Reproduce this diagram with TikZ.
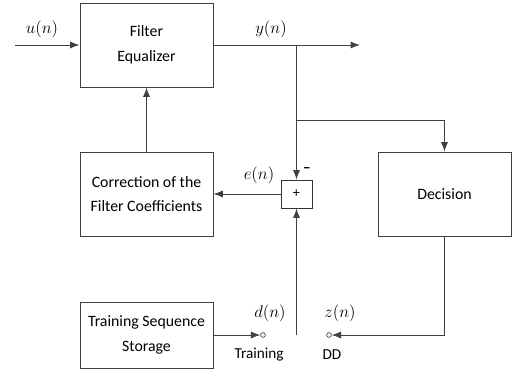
\documentclass[tikz,border=0pt]{standalone}
\usepackage{fontspec}
\setmainfont{Carlito}
\usetikzlibrary{arrows.meta}

\begin{document}
\begin{tikzpicture}[x=0.03cm, y=-0.03cm, >={Latex[length=8pt,width=6pt]},
block/.style={draw=black!75, line width=0.8pt, minimum width=3.99cm, minimum height=2.52cm, align=center, font=\fontsize{13.5}{21}\selectfont},
sumbox/.style={draw=black!80, line width=0.8pt, minimum width=0.93cm, minimum height=0.84cm, inner sep=0pt, font=\fontsize{12}{14}\selectfont},
port/.style={circle, draw=black!75, line width=0.6pt, minimum size=4pt, inner sep=0pt},
wire/.style={draw=black!75, line width=0.8pt},
label/.style={font=\fontsize{13}{15}\selectfont},
mlabel/.style={font=\fontsize{14.4}{16}\selectfont}]
\useasboundingbox (0,0) rectangle (520,376);

%Blocks
\node[block] (filter) at (146.5,45) {Filter\\Equalizer};
\node[block] (corr) at (146.5,194) {Correction of the\\Filter Coefficients};
\node[block] (decision) at (444.5,194) {Decision};
\node[block, minimum height=1.98cm] (train) at (146.5,335) {Training Sequence\\Storage};
\node[sumbox] (sum) at (296.5,194) {+};

%Switch contacts
\node[port] (dport) at (263,335) {};
\node[port] (zport) at (329,335) {};

%Points on the wires
\coordinate (in) at (15,45);
\coordinate (out) at (360,45);
\coordinate (tap) at (296.5,45);
\coordinate (tapdec) at (296.5,120);
\coordinate (sw) at (296.5,335);

%Wires
\draw[wire,->] (in) -- (filter);
\draw[wire,->] (filter) -- (out);
\draw[wire,->] (tap) -- (sum.north);
\draw[wire,->] (tapdec) -| (decision.north);
\draw[wire,->] (sum) -- (corr);
\draw[wire,->] (corr) -- (filter);
\draw[wire,->] (sw) -- (sum.south);
\draw[wire,->] (train) -- (dport);
\draw[wire,->] (decision.south) |- (zport);

%Labels
\node[mlabel] (u) at (42,29) {$u(n)$};
\node[mlabel] (y) at (271,29) {$y(n)$};
\node[mlabel] (e) at (259,175) {$e(n)$};
\node[label] (minus) at (307,170) {\textbf{--}};
\node[mlabel] (d) at (270,313) {$d(n)$};
\node[mlabel] (z) at (340,313) {$z(n)$};
\node[label] (tr) at (259,355) {Training};
\node[label] (dd) at (332,355) {DD};
\end{tikzpicture}
\end{document}
